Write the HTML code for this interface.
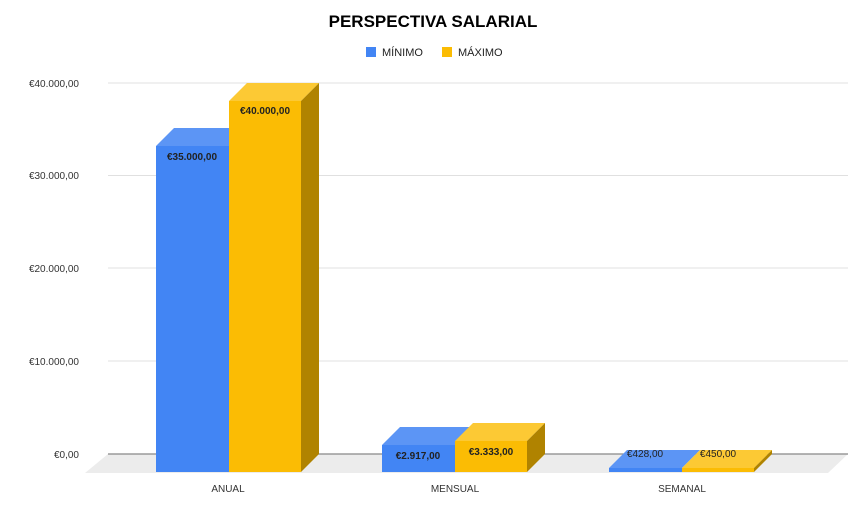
<!DOCTYPE html><html><head><style>body{margin:0;background:#fff}</style></head><body>
<svg width="867" height="500" xmlns="http://www.w3.org/2000/svg" font-family="Liberation Sans, Arial, sans-serif">
<rect width="867" height="500" fill="#fff"/>
<text x="433" y="27" text-anchor="middle" font-size="17" font-weight="bold" fill="#000">PERSPECTIVA SALARIAL</text>
<rect x="366" y="47" width="10" height="10" fill="#4285f4"/><text x="382" y="56" font-size="11" fill="#222">MÍNIMO</text>
<rect x="442" y="47" width="10" height="10" fill="#fbbc04"/><text x="458" y="56" font-size="11" fill="#222">MÁXIMO</text>
<g stroke="#e0e0e0" stroke-width="1">
<line x1="108" y1="83" x2="848" y2="83"/><line x1="108" y1="175.5" x2="848" y2="175.5"/><line x1="108" y1="268" x2="848" y2="268"/><line x1="108" y1="361" x2="848" y2="361"/>
</g>
<polygon points="108,454 848,454 828,473 85,473" fill="#ececec"/>
<line x1="108" y1="454" x2="848" y2="454" stroke="#888" stroke-width="1.2"/>
<g font-size="10" fill="#333" text-anchor="end">
<text x="79" y="87">€40.000,00</text><text x="79" y="179">€30.000,00</text><text x="79" y="272">€20.000,00</text><text x="79" y="365">€10.000,00</text><text x="79" y="458">€0,00</text>
</g>
<g font-size="10" fill="#333" text-anchor="middle">
<text x="228" y="492">ANUAL</text><text x="455" y="492">MENSUAL</text><text x="682" y="492">SEMANAL</text>
</g>
<!-- bars: front x, width, top -->
<g>
<!-- ANUAL blue -->
<polygon points="156,146 174,128 247,128 229,146" fill="#5c95f5"/>
<rect x="156" y="146" width="73" height="326" fill="#4285f4"/>
<!-- ANUAL gold -->
<polygon points="229,101 247,83 319,83 301,101" fill="#fcc934"/>
<polygon points="301,101 319,83 319,454 301,472" fill="#b08300"/>
<rect x="229" y="101" width="72" height="371" fill="#fbbc04"/>
<!-- MENSUAL -->
<polygon points="382,445 400,427 473,427 455,445" fill="#5c95f5"/>
<rect x="382" y="445" width="73" height="27" fill="#4285f4"/>
<polygon points="455,441 473,423 545,423 527,441" fill="#fcc934"/>
<polygon points="527,441 545,423 545,454 527,472" fill="#b08300"/>
<rect x="455" y="441" width="72" height="31" fill="#fbbc04"/>
<!-- SEMANAL -->
<polygon points="609,468 627,450 700,450 682,468" fill="#5c95f5"/>
<rect x="609" y="468" width="73" height="4" fill="#4285f4"/>
<polygon points="682,468 700,450 772,450 754,468" fill="#fcc934"/>
<polygon points="754,468 772,450 772,454 754,472" fill="#b08300"/>
<rect x="682" y="468" width="72" height="4" fill="#fbbc04"/>
</g>
<g font-size="10" font-weight="bold" fill="#222" text-anchor="middle">
<text x="192" y="160">€35.000,00</text><text x="265" y="114">€40.000,00</text>
<text x="418" y="459">€2.917,00</text><text x="491" y="455">€3.333,00</text>
<text x="645" y="457" font-weight="normal">€428,00</text><text x="718" y="457" font-weight="normal">€450,00</text>
</g>
</svg></body></html>
